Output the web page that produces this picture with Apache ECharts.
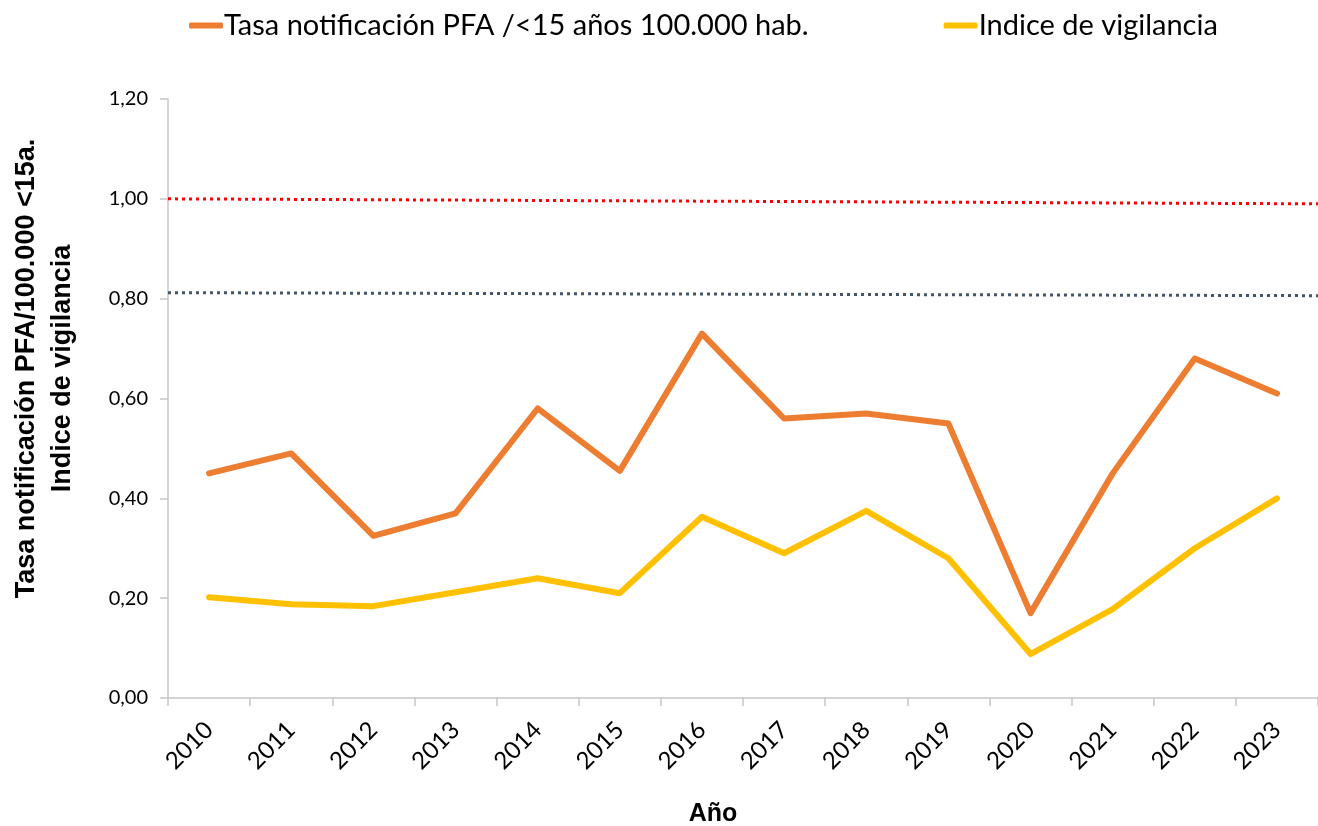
<!DOCTYPE html>
<html>
<head>
<meta charset="utf-8">
<style>
  html, body { margin: 0; padding: 0; background: #fff; }
  #chart { width: 1318px; height: 826px; }
</style>
<script src="https://cdn.jsdelivr.net/npm/echarts@6/dist/echarts.min.js"></script>
</head>
<body>
<div id="chart"></div>
<script>
// categorias (años)
const years = ['2010', '2011', '2012', '2013', '2014', '2015', '2016', '2017', '2018', '2019', '2020', '2021', '2022', '2023']
// Tasa notificación PFA /<15 años 100.000 hab.
const tasaPFA = [0.45, 0.49, 0.325, 0.37, 0.58, 0.455, 0.73, 0.56, 0.57, 0.55, 0.17, 0.45, 0.68, 0.61]
// Indice de vigilancia
const indiceVig = [0.202, 0.188, 0.184, 0.212, 0.24, 0.21, 0.363, 0.29, 0.375, 0.28, 0.088, 0.178, 0.30, 0.40]
// líneas de referencia (inicio, fin)
const refRoja = [1.0, 0.99]
const refGris = [0.812, 0.806]

const chart = echarts.init(document.getElementById('chart'))
const axisGray = '#c6c6c6'
const calibri = 'Lato, "Open Sans", sans-serif'

chart.setOption({
  animation: false,
  legend: {
    top: 6,
    left: 184,
    itemGap: 135,
    icon: 'roundRect',
    itemWidth: 34,
    itemHeight: 6,
    textStyle: { fontSize: 29, fontFamily: calibri, color: '#000', padding: [0, 0, 0, -4] },
    data: ['Tasa notificación PFA /<15 años 100.000 hab.', 'Indice de vigilancia']
  },
  grid: {
    left: 168,
    right: 0,
    top: 99,
    bottom: 128,
    outerBoundsMode: 'none',
    containLabel: false
  },
  xAxis: [
    {
      type: 'category',
      data: years,
      boundaryGap: true,
      name: 'Año',
      nameLocation: 'middle',
      nameGap: 104,
      nameTextStyle: {
        fontSize: 25,
        fontWeight: 'bold',
        fontFamily: 'Liberation Sans, Arial',
        color: '#000',
        padding: [0, 60, 0, 0]
      },
      axisLine: { lineStyle: { color: axisGray, width: 1.5 } },
      axisTick: { show: true, length: 8, alignWithLabel: false, lineStyle: { color: axisGray, width: 1.5 } },
      axisLabel: { rotate: 45, fontSize: 24, fontFamily: calibri, color: '#000', margin: 28 }
    },
    {
      type: 'value',
      show: false,
      min: 0,
      max: 1
    }
  ],
  yAxis: {
    type: 'value',
    min: 0,
    max: 1.2,
    interval: 0.2,
    name: 'Tasa notificación PFA/100.000 <15a.\nIndice de vigilancia',
    nameLocation: 'middle',
    nameGap: 87,
    nameTextStyle: {
      fontSize: 27,
      fontWeight: 'bold',
      fontFamily: 'Liberation Sans, Arial',
      color: '#000',
      lineHeight: 36,
      padding: [0, 0, 0, 60]
    },
    splitLine: { show: false },
    axisLine: { show: true, lineStyle: { color: axisGray, width: 1.5 } },
    axisTick: { show: true, length: 8, lineStyle: { color: axisGray, width: 1.5 } },
    axisLabel: {
      fontSize: 20,
      fontFamily: calibri,
      color: '#000',
      margin: 20,
      formatter: v => v.toFixed(2).replace('.', ',')
    }
  },
  series: [
    {
      name: 'Tasa notificación PFA /<15 años 100.000 hab.',
      type: 'line',
      data: tasaPFA,
      symbol: 'none',
      itemStyle: { color: '#ED7D31' },
      lineStyle: { color: '#ED7D31', width: 6, cap: 'round', join: 'round' },
      z: 3
    },
    {
      name: 'Indice de vigilancia',
      type: 'line',
      data: indiceVig,
      symbol: 'none',
      itemStyle: { color: '#FFC000' },
      lineStyle: { color: '#FFC000', width: 6, cap: 'round', join: 'round' },
      z: 3
    },
    {
      name: 'ref1',
      type: 'line',
      xAxisIndex: 1,
      data: [[0, refRoja[0]], [1, refRoja[1]]],
      symbol: 'none',
      silent: true,
      lineStyle: { color: '#FF0000', width: 3, type: [3, 4] }
    },
    {
      name: 'ref2',
      type: 'line',
      xAxisIndex: 1,
      data: [[0, refGris[0]], [1, refGris[1]]],
      symbol: 'none',
      silent: true,
      lineStyle: { color: '#44546A', width: 3, type: [3, 4] }
    }
  ]
})
</script>
</body>
</html>
